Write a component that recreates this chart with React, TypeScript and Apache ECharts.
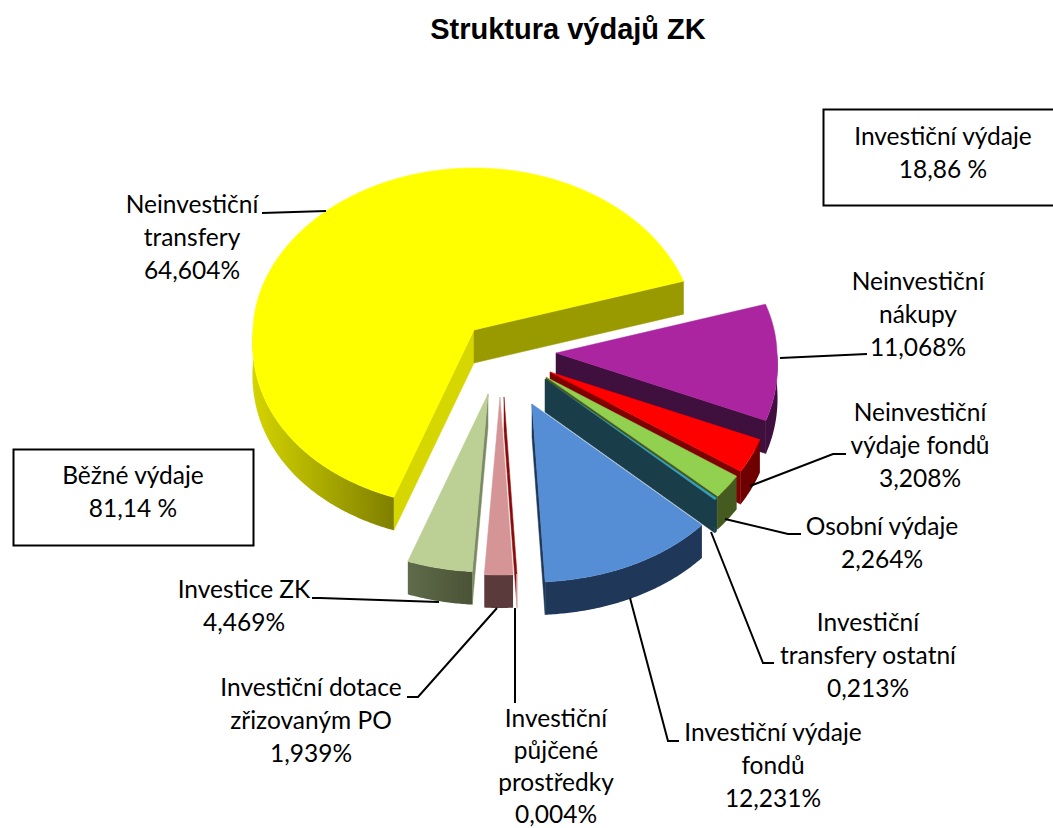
import React, { useEffect, useRef } from "react";
import * as echarts from "echarts";

const titleText = "Struktura výdajů ZK";
const categories = [
  "Neinvestiční transfery",
  "Neinvestiční nákupy",
  "Neinvestiční výdaje fondů",
  "Osobní výdaje",
  "Investiční transfery ostatní",
  "Investiční výdaje fondů",
  "Investiční půjčené prostředky",
  "Investiční dotace zřizovaným PO",
  "Investice ZK",
];
const values = [64.604, 11.068, 3.208, 2.264, 0.213, 12.231, 0.004, 1.939, 4.469];
const labelLines = [
  ["Neinvestiční", "transfery"],
  ["Neinvestiční", "nákupy"],
  ["Neinvestiční", "výdaje fondů"],
  ["Osobní výdaje"],
  ["Investiční", "transfery ostatní"],
  ["Investiční výdaje", "fondů"],
  ["Investiční", "půjčené", "prostředky"],
  ["Investiční dotace", "zřizovaným PO"],
  ["Investice ZK"],
];
const boxTexts = [
  ["Investiční výdaje", "18,86 %"],
  ["Běžné výdaje", "81,14 %"],
];

// --- layout and style, kept apart from the data ---
const FONT = "Lato";
const FONT_SIZE = 24.5;
const LINE_H = 33;
const CX = 505, CY = 360;
const DEPTH = 33;
const START_ANGLE = 199.9;
const explodeOffset = [[-31, -30], [51, -7], [45, 12], [41, 17], [40, 19], [27, 44], [-1, 37], [-5, 37], [-17, 34]];
const topColors = ["#FFFF00", "#AB25A0", "#FF0000", "#92D050", "#31A0C0", "#558ED5", "#E6B9B8", "#D59597", "#BCD096"];
const rimColors: any[] = [
  { type: "linear", x: 0, y: 0, x2: 1, y2: 0, colorStops: [{ offset: 0, color: "#D4D400" }, { offset: 1, color: "#7F7F00" }] },
  "#3F0F3D", "#6E0000", "#445A1F", "#1A3D4A", "#1F3759", "#EBCDCD", "#5A3A3B",
  { type: "linear", x: 0, y: 0, x2: 1, y2: 0, colorStops: [{ offset: 0, color: "#5F6B4B" }, { offset: 1, color: "#4A5335" }] },
];
const startFaceColors = ["#D6D600", "#3F0F3D", "#6E0000", "#445A1F", "#1A3D4A", "#1F3759", "#8B0A0A", "#5A3A3B", "#7D8A66"];
const endFaceColors = ["#999900", "#3F0F3D", "#7F0000", "#445A1F", "#1A3D4A", "#1F3759", "#8B0A0A", "#5A3A3B", "#7D8A66"];
const labelCenters = [[192, 203], [918, 280], [920, 411], [882, 525], [868, 621], [773, 731], [556, 717], [311, 686], [244, 588]];
const labelSpacing = [LINE_H, LINE_H, LINE_H, LINE_H, LINE_H, LINE_H, 32, LINE_H, LINE_H];
const leaders = [
  [[262, 213], [326, 211]],
  [[780, 358], [867, 354]],
  [[750, 486], [833, 454], [846, 454]],
  [[725, 519], [788, 534], [801, 534]],
  [[711, 532], [763, 663], [774, 663]],
  [[630, 598], [668, 741], [679, 741]],
  [[515, 608], [515, 703]],
  [[497, 608], [418, 697], [407, 697]],
  [[439, 602], [320, 598], [312, 598]],
];
const boxes = [
  { x: 823, y: 109, w: 240, h: 96, tx: 943, ty: 135 },
  { x: 13, y: 449, w: 240, h: 96, tx: 133, ty: 474 },
];

const RAD = Math.PI / 180;
const total = values.reduce((a, b) => a + b, 0);
const sliceAngles: [number, number][] = [];
{
  let acc = START_ANGLE;
  for (const v of values) {
    const next = acc + (v / total) * 360;
    sliceAngles.push([acc, next]);
    acc = next;
  }
}

// projection of the tilted disc: angle clockwise from the top, the front slightly larger than the back
function rimPoint(theta: number) {
  const c = -Math.cos(theta * RAD);
  const a = 221 * (1 + (c > 0 ? 0.07 : 0.02) * c);
  const b = c > 0 ? 178 : 162;
  return [a * Math.sin(theta * RAD), b * c];
}

function arcPoints(t0: number, t1: number, ax: number, ay: number, dy: number) {
  const pts: number[][] = [];
  const n = Math.max(1, Math.ceil((t1 - t0) / 0.5));
  for (let i = 0; i <= n; i++) {
    const p = rimPoint(t0 + ((t1 - t0) * i) / n);
    pts.push([ax + p[0], ay + p[1] + dy]);
  }
  return pts;
}

function renderSlice(params: any) {
  const i = params.dataIndex;
  const [t0, t1] = sliceAngles[i];
  const ax = CX + explodeOffset[i][0];
  const ay = CY + explodeOffset[i][1];
  const children: any[] = [];
  const face = (t: number, fill: any) => {
    const p = rimPoint(t);
    children.push({
      type: "polygon",
      shape: { points: [[ax, ay], [ax + p[0], ay + p[1]], [ax + p[0], ay + p[1] + DEPTH], [ax, ay + DEPTH]] },
      style: { fill, stroke: fill, lineWidth: 0.5 },
    });
  };
  if (Math.sin(t0 * RAD) < 0) face(t0, startFaceColors[i]);
  if (Math.sin(t1 * RAD) > 0) face(t1, endFaceColors[i]);
  // visible part of the outer rim: the front half of the disc, in any turn of the angle
  for (const turn of [0, 360]) {
    const r0 = Math.max(t0, 90 + turn);
    const r1 = Math.min(t1, 270 + turn);
    if (r1 >= r0) {
      const top = arcPoints(r0, r1, ax, ay, 0);
      const bottom = arcPoints(r0, r1, ax, ay, DEPTH).reverse();
      const thin = r1 - r0 < 0.5;
      children.push({
        type: "polygon",
        shape: { points: top.concat(bottom) },
        style: { fill: rimColors[i], stroke: thin ? rimColors[i] : undefined, lineWidth: thin ? 1.5 : 0 },
      });
    }
  }
  const thinTop = t1 - t0 < 1;
  children.push({
    type: "polygon",
    shape: { points: [[ax, ay] as number[]].concat(arcPoints(t0, t1, ax, ay, 0)) },
    style: { fill: topColors[i], stroke: thinTop ? undefined : topColors[i], lineWidth: thinTop ? 0 : 0.5 },
  });
  return { type: "group", children };
}

const commaPct = (v: number) => v.toFixed(3).replace(".", ",") + "%";

function buildGraphics() {
  const els: any[] = [];
  const text = (x: number, y: number, t: string) =>
    els.push({
      type: "text",
      x,
      y,
      z: 10,
      style: { text: t, fill: "#000000", font: `${FONT_SIZE}px ${FONT}`, textAlign: "center", textVerticalAlign: "middle" },
    });
  els.push({
    type: "text",
    x: 568,
    y: 29,
    z: 10,
    style: { text: titleText, fill: "#000000", font: "bold 29px 'Liberation Sans'", textAlign: "center", textVerticalAlign: "middle" },
  });
  categories.forEach((_, i) => {
    const lines = [...labelLines[i], commaPct(values[i])];
    lines.forEach((l, k) => text(labelCenters[i][0], labelCenters[i][1] + k * labelSpacing[i], l));
    els.push({
      type: "polyline",
      z: 9,
      shape: { points: leaders[i] },
      style: { stroke: "#000000", lineWidth: 2, fill: "none" },
    });
  });
  boxes.forEach((b, i) => {
    els.push({
      type: "rect",
      z: 8,
      shape: { x: b.x + 0.5, y: b.y + 0.5, width: b.w, height: b.h },
      style: { fill: "#ffffff", stroke: "#000000", lineWidth: 2 },
    });
    boxTexts[i].forEach((l, k) => text(b.tx, b.ty + k * LINE_H, l));
  });
  return els;
}

export default function App() {
  const ref = useRef<HTMLDivElement>(null);
  useEffect(() => {
    const chart = echarts.init(ref.current!, undefined, { renderer: "svg" });
    chart.setOption({
      animation: false,
      backgroundColor: "#ffffff",
      series: [
        {
          type: "custom",
          coordinateSystem: "none",
          silent: true,
          renderItem: renderSlice,
          data: categories.map((name, i) => ({ name, value: values[i] })),
        },
      ],
      graphic: { elements: buildGraphics() },
    });
    return () => chart.dispose();
  }, []);
  return <div ref={ref} style={{ position: "fixed", left: 0, top: 0, width: 1053, height: 828 }} />;
}
